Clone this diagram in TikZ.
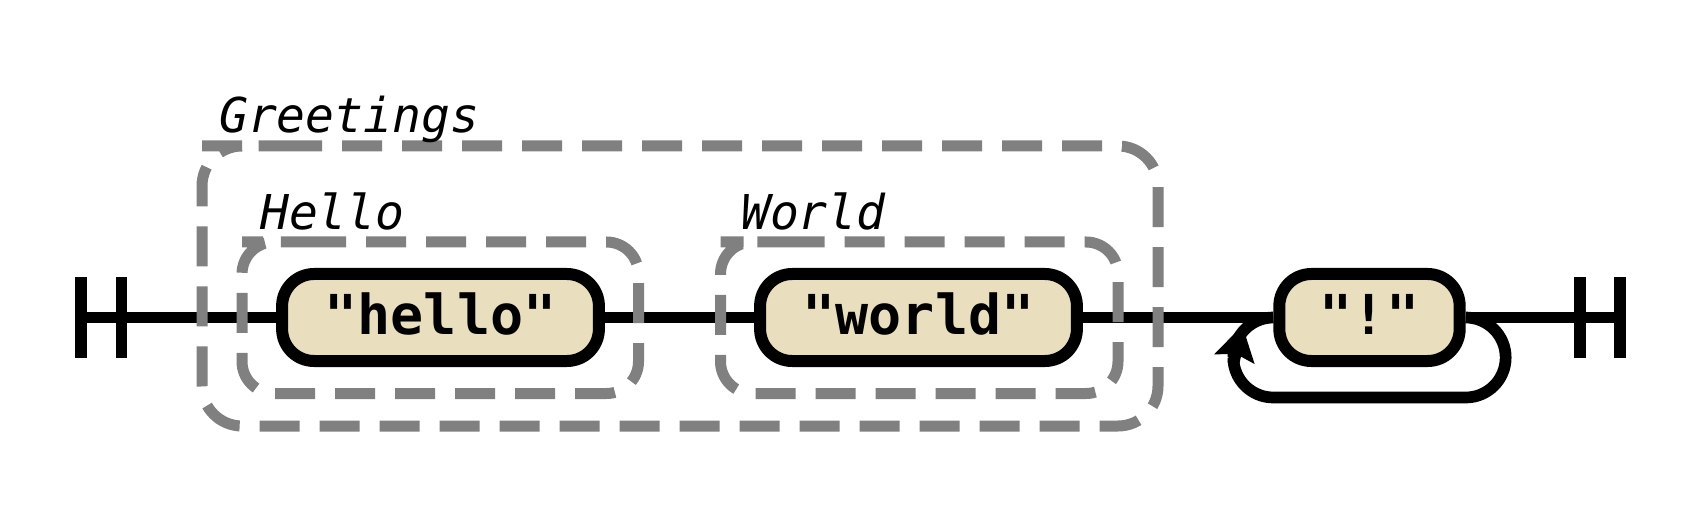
\documentclass[tikz,border=0pt]{standalone}
\usepackage{fontspec}
\usetikzlibrary{arrows.meta,positioning,calc}
\newfontfamily\railmono{DejaVu Sans Mono}
\definecolor{railfill}{RGB}{233,222,190}
\definecolor{groupgray}{RGB}{128,128,128}
\pgfdeclarelayer{background}
\pgfdeclarelayer{foreground}
\pgfsetlayers{background,main,foreground}

\tikzset{
  rail/.style={line width=11.7pt},
  terminal/.style={draw, line width=12pt, fill=railfill, rounded corners=32pt,
    inner xsep=42.5pt, inner ysep=0pt, minimum height=87pt,
    text height=35pt, text depth=0pt,
    font=\railmono\bfseries\fontsize{55}{60}\selectfont},
  group/.style={draw=groupgray, line width=11pt, dash pattern=on 40pt off 20pt},
  grouplabel/.style={anchor=base west, inner sep=0pt,
    font=\railmono\itshape\fontsize{48}{52}\selectfont},
}

\begin{document}
\begin{tikzpicture}[x=1pt,y=1pt]
    \useasboundingbox (0,0) rectangle (1698,504);

    \node[terminal] (hello) at (440.5,186.5) {"hello"};
    \node[terminal] (world) at (918.5,186.5) {"world"};
    \node[terminal, inner xsep=40.5pt] (bang) at (1369.5,186.5) {"!"};
    \coordinate (begin) at (81,186.5);
    \coordinate (finish) at (1620,186.5);

    \begin{pgfonlayer}{background}
    \draw[rail] ([yshift=40pt]begin) -- ([yshift=-40pt]begin);
    \draw[rail] ([xshift=40.5pt,yshift=40pt]begin) -- ([xshift=40.5pt,yshift=-40pt]begin);
    \draw[rail] (begin) -- (hello.west);
    \draw[rail] (hello.east) -- (world.west);
    \draw[rail] (world.east) -- (bang.west);
    \draw[rail] (bang.east) -- (finish);
    \draw[rail] ([xshift=-40pt,yshift=40pt]finish) -- ([xshift=-40pt,yshift=-40pt]finish);
    \draw[rail] ([yshift=40pt]finish) -- ([yshift=-40pt]finish);
    % repeat loop under "!"
    \draw[rail] (bang.east) arc[start angle=90, end angle=-90, radius=40]
      -- ($(bang.west)+(0,-80)$) arc[start angle=270, end angle=180, radius=40]
      coordinate (loopleft);
    \draw[rail] (loopleft) arc[start angle=180, end angle=90, radius=40];
    \draw[rail, -{Stealth[length=34pt,width=40pt,inset=5pt]}] ([yshift=-6pt]loopleft) -- ++(9,38);
    \end{pgfonlayer}

    \begin{pgfonlayer}{foreground}
    \draw[group, rounded corners=40pt] (242,358) -- (1158,358) -- (1158,78) -- (202,78) -- (202,358) -- cycle;
    \draw[group, rounded corners=32pt] (274,262) -- (638.5,262) -- (638.5,110.5) -- (242,110.5) -- (242,262) -- cycle;
    \draw[group, rounded corners=32pt] (752.5,262) -- (1118,262) -- (1118,110.5) -- (720.5,110.5) -- (720.5,262) -- cycle;
    \node[grouplabel] (greetlbl) at (219,371) {Greetings};
    \node[grouplabel] (hellolbl) at (260,274) {Hello};
    \node[grouplabel] (worldlbl) at (741,274) {World};
    \end{pgfonlayer}
\end{tikzpicture}
\end{document}
